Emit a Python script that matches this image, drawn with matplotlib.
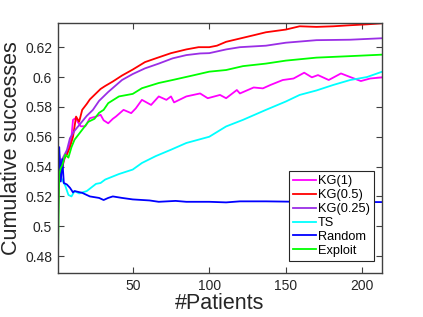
import matplotlib
matplotlib.use("Agg")
import matplotlib.pyplot as plt

plt.rcParams['font.family'] = ['Liberation Sans', 'DejaVu Sans']

labels = ["KG(1)", "KG(0.5)", "KG(0.25)", "TS", "Random", "Exploit"]
colors = ["#ff00ff", "#ff0000", "#9a2ee6", "#00ffff", "#0000ff", "#00ff00"]

kg1_x = [1, 2, 4, 6, 8, 10, 11, 13, 14, 16, 19, 22, 26, 29, 31, 34, 37, 39, 44, 49,
         52, 56, 62, 67, 72, 75, 77, 85, 94, 99, 107, 111, 118, 120, 129, 135, 140, 148, 155, 162,
         167, 171, 178, 186, 192, 199, 205, 213]
kg1_y = [0.495, 0.545, 0.540, 0.547, 0.552, 0.560, 0.5713, 0.5727, 0.570, 0.567,
         0.567, 0.5724, 0.5735, 0.5747, 0.571, 0.569, 0.572, 0.5735, 0.578, 0.5758,
         0.579, 0.5847, 0.5813, 0.587, 0.5847, 0.587, 0.583, 0.587, 0.589, 0.5858,
         0.588, 0.5858, 0.5913, 0.589, 0.593, 0.5924, 0.5947, 0.598, 0.599, 0.6029,
         0.5998, 0.6013, 0.598, 0.6024, 0.600, 0.5973, 0.599, 0.5998]

kg05_x = [1, 2, 3, 4, 5, 7, 9, 11, 13, 15, 17, 20, 22, 26, 29, 32, 37, 43, 50, 58,
          65, 75, 85, 93, 100, 105, 111, 120, 129, 137, 150, 159, 170, 181, 192, 203, 213]
kg05_y = [0.505, 0.545, 0.540, 0.538, 0.545, 0.548, 0.553, 0.560, 0.5735, 0.570,
          0.578, 0.582, 0.585, 0.589, 0.592, 0.594, 0.597, 0.601, 0.605, 0.610,
          0.6125, 0.616, 0.6185, 0.620, 0.620, 0.621, 0.6236, 0.6258, 0.628, 0.630,
          0.6318, 0.634, 0.6336, 0.634, 0.6347, 0.6353, 0.636]

kg025_x = [1, 2, 3, 4, 5, 7, 9, 12, 16, 20, 24, 28, 34, 43, 50, 58, 67, 76, 85, 94,
           100, 111, 120, 137, 150, 170, 192, 213]
kg025_y = [0.545, 0.548, 0.540, 0.545, 0.547, 0.551, 0.559, 0.564, 0.569, 0.574,
           0.578, 0.584, 0.590, 0.598, 0.602, 0.6058, 0.609, 0.6125, 0.6147, 0.6158,
           0.616, 0.6185, 0.620, 0.621, 0.623, 0.6247, 0.625, 0.626]

ts_x = [1, 2, 4, 6, 8, 10, 12, 15, 20, 26, 29, 32, 41, 50, 56, 65, 75, 85, 100, 111,
        122, 137, 150, 159, 170, 181, 192, 203, 213]
ts_y = [0.528, 0.535, 0.531, 0.527, 0.521, 0.520, 0.5236, 0.522, 0.5236, 0.5284,
        0.529, 0.5313, 0.535, 0.538, 0.5424, 0.547, 0.5513, 0.5558, 0.560, 0.5669,
        0.5713, 0.578, 0.5836, 0.588, 0.591, 0.5947, 0.598, 0.600, 0.6036]

rand_x = [1, 2, 3, 4, 5, 7, 9, 11, 12, 17, 22, 28, 31, 34, 37, 43, 50, 61, 67, 78,
          85, 100, 111, 120, 137, 159, 181, 213]
rand_y = [0.527, 0.553, 0.530, 0.545, 0.529, 0.528, 0.5258, 0.5227, 0.5236, 0.5224,
          0.520, 0.519, 0.5176, 0.519, 0.520, 0.519, 0.518, 0.5173, 0.5164, 0.517,
          0.5164, 0.5164, 0.516, 0.5167, 0.5167, 0.5164, 0.5164, 0.5162]

expl_x = [1, 2, 3, 4, 6, 8, 10, 12, 15, 18, 21, 25, 28, 31, 34, 41, 50, 56, 67, 76,
          89, 100, 111, 122, 137, 150, 170, 192, 213]
expl_y = [0.467, 0.535, 0.539, 0.541, 0.548, 0.546, 0.553, 0.558, 0.562, 0.566,
          0.570, 0.572, 0.576, 0.578, 0.5825, 0.587, 0.5887, 0.5925, 0.596, 0.598,
          0.601, 0.6036, 0.6047, 0.6073, 0.609, 0.611, 0.613, 0.614, 0.615]

x_ticks = [50, 100, 150, 200]
y_ticks = [0.48, 0.50, 0.52, 0.54, 0.56, 0.58, 0.60, 0.62]
y_tick_labels = ["0.48", "0.5", "0.52", "0.54", "0.56", "0.58", "0.6", "0.62"]

series = [(kg1_x, kg1_y), (kg05_x, kg05_y), (kg025_x, kg025_y),
          (ts_x, ts_y), (rand_x, rand_y), (expl_x, expl_y)]

fig = plt.figure(figsize=(4.23, 3.17), dpi=100)
ax = fig.add_axes([0.1364, 0.1379, 0.9038 - 0.1364, 0.9265 - 0.1379])

for (xs, ys), lab, col in zip(series, labels, colors):
    ax.plot(xs, ys, color=col, lw=1.3, label=lab)

ax.set_xlim(1, 213)
ax.set_ylim(0.4685, 0.636)
ax.set_xticks(x_ticks)
ax.set_yticks(y_ticks)
ax.set_yticklabels(y_tick_labels)

spine_col = "#404040"
for s in ax.spines.values():
    s.set_color(spine_col)
    s.set_linewidth(1.0)
ax.tick_params(direction='in', length=4, width=0.8, color=spine_col,
               top=True, right=True, labelsize=10, labelcolor="#262626", pad=4)

ax.set_xlabel("#Patients", fontsize=15.5, color="#262626", labelpad=0)
ax.set_ylabel("Cumulative successes", fontsize=15.5, color="#262626", labelpad=2)

leg = ax.legend(loc='lower right', bbox_to_anchor=(0.9744, 0.0504), borderaxespad=0,
                fontsize=9.2, frameon=True, fancybox=False, framealpha=1,
                edgecolor="#262626", labelspacing=0.15, handlelength=1.8,
                handletextpad=0.2, borderpad=0.3)
leg.get_frame().set_linewidth(0.8)

fig.savefig("out.png", dpi=100)
